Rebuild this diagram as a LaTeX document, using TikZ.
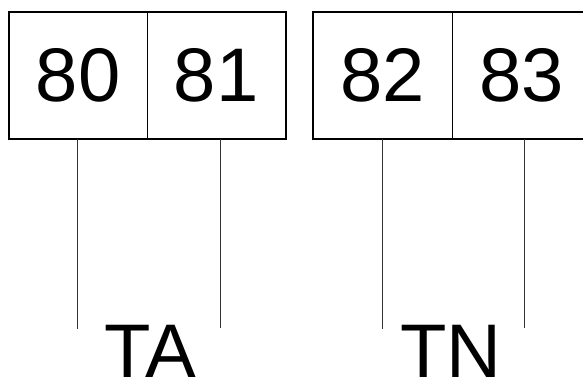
\documentclass[tikz,border=0pt]{standalone}
\usepackage{fontspec}
\setmainfont{Liberation Sans}
\begin{document}
\begin{tikzpicture}[x=1pt,y=-1pt,
  cell/.style={inner sep=0pt, minimum height=126.5pt,
     font=\fontsize{76}{78}\selectfont},
  frame/.style={draw, line width=1.7pt},
  divider/.style={draw, line width=0.8pt},
  lead/.style={draw, line width=0.8pt, black!80},
  tag/.style={font=\fontsize{76}{78}\selectfont, anchor=base, inner sep=0pt}]
\useasboundingbox (0,0) rectangle (583,383);
\node[cell, minimum width=137.5pt] (c1) at (78.25,75.75) {80};
\node[cell, minimum width=138.5pt] (c2) at (216.25,75.75) {81};
\node[cell, minimum width=139pt] (c3) at (382.8,75.75) {82};
\node[cell, minimum width=139pt] (c4) at (521.8,75.75) {83};
\coordinate (edge) at (583,0);
\draw[frame] (c1.north west) rectangle (c2.south east);
\draw[divider] (c1.north east) -- (c1.south east);
\draw[frame] (c4.north -| edge) -- (c3.north west) -- (c3.south west) -- (c4.south -| edge);
\draw[divider] (c3.north east) -- (c3.south east);
\coordinate (e1) at (77.7,329);
\coordinate (e2) at (220.3,328);
\coordinate (e3) at (382.7,329);
\coordinate (e4) at (524.3,328);
\draw[lead] (c1.south -| e1) -- (e1);
\draw[lead] (c2.south -| e2) -- (e2);
\draw[lead] (c3.south -| e3) -- (e3);
\draw[lead] (c4.south -| e4) -- (e4);
\node[tag] (ta) at (150,377) {TA};
\node[tag] (tn) at (451,377) {TN};
\end{tikzpicture}
\end{document}
